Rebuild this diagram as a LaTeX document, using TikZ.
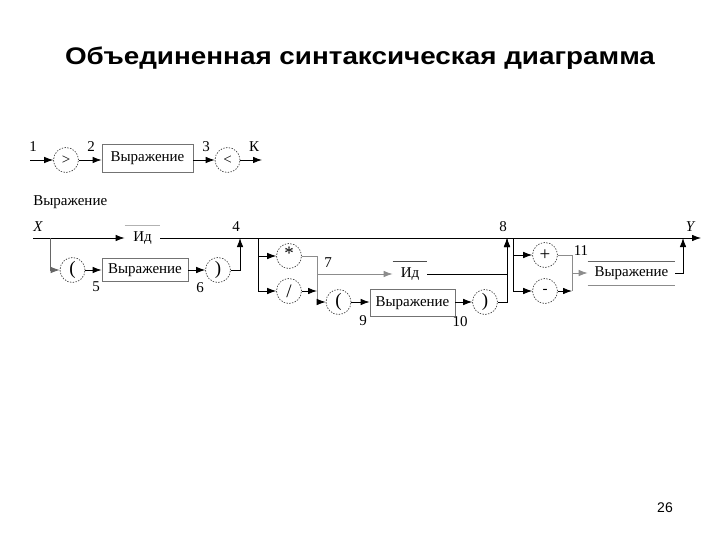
\documentclass[tikz,border=0pt]{standalone}
\usepackage{fontspec}
\setmainfont{Liberation Serif}
\newfontfamily\sansf{Liberation Sans}
\usetikzlibrary{arrows.meta}
\begin{document}
\begin{tikzpicture}[x=1pt,y=-1pt,
  line width=0.8pt,
  every node/.style={font=\fontsize{15}{17}\selectfont},
  arr/.style={-{Latex[length=9pt,width=6.5pt]}},
  term/.style={circle, draw=black!75, dash pattern=on 1.4pt off 1.4pt, line width=0.7pt, minimum size=25pt, inner sep=0pt},
  big/.style={font=\fontsize{19}{20}\selectfont},
  ntbox/.style={rectangle, draw=black!55, inner sep=0pt},
  plainbox/.style={rectangle, inner sep=0pt},
  lbl/.style={inner sep=0pt}
]
\useasboundingbox (0,0) rectangle (720,540);
\node[font=\sansf\bfseries\fontsize{24}{28}\selectfont, anchor=base] (title) at (360,65) {\scalebox{1.16}[1]{Объединенная синтаксическая диаграмма}};
\node[font=\sansf\fontsize{14}{16}\selectfont] (page) at (665,508) {26};

% top row
\coordinate (s1) at (30,160);
\node[term] (g1) at (66,160) {>};
\node[ntbox, minimum width=91pt, minimum height=28pt] (e1) at (147.5,158) {Выражение};
\node[term] (l1) at (227.5,160) {<};
\coordinate (k) at (262,160);
\draw[arr] (s1) -- (g1);
\draw[arr] (g1) -- (g1.east -| e1.west);
\draw[arr] (e1.east |- l1) -- (l1);
\draw[arr] (l1) -- (k);
\node[lbl] (n1) at (33,147) {1};
\node[lbl] (n2) at (91,147) {2};
\node[lbl] (n3) at (206,147) {3};
\node[lbl] (nk) at (254,147) {К};

\node[lbl, anchor=west] (vyr) at (33,202) {Выражение};

% main line
\coordinate (X) at (33,238);
\node[lbl] (xl) at (38,227) {\itshape X};
\node[plainbox, minimum width=35pt, minimum height=24pt] (id1) at (142.5,238) {Ид};
\draw[black!30] (id1.north west) -- (id1.north east);
\coordinate (Y) at (701,238);
\node[lbl] (yl) at (690,227) {\itshape Y};
\draw[arr] (X) -- (id1);
\draw[arr] (id1) -- (Y);

\coordinate (jb1) at (50,238);
\coordinate (j4) at (240,238);
\coordinate (jb2) at (258,238);
\coordinate (j8) at (507,238);
\coordinate (jb3) at (513,238);
\coordinate (jY) at (683,238);

% branch 1
\node[term, big] (p1) at (72.5,270) {(};
\node[ntbox, minimum width=86pt, minimum height=23pt] (e2) at (145,270) {Выражение};
\node[term, big] (p2) at (218,270) {)};
\draw[arr, black!60] (jb1) |- (p1);
\draw[arr] (p1) -- (e2);
\draw[arr] (e2) -- (p2);
\draw[arr] (p2) -| (j4);
\node[lbl] (n5) at (96,287) {5};
\node[lbl] (n6) at (200,288) {6};
\node[lbl] (n4) at (236,227) {4};

% branch 2
\node[term, big, text depth=5pt] (star) at (289,256) {*};
\node[term, big] (slash) at (289,291) {/};
\draw[arr] (jb2) |- (star);
\draw[arr] (jb2) |- (slash);
\coordinate (c7b) at (317,302);
\draw[black!45] (star) -| (c7b);
\draw[arr] (slash) -- (c7b |- slash);
\node[plainbox, minimum width=34pt, minimum height=24pt] (id2) at (410,274) {Ид};
\draw[black!70] (id2.north west) -- (id2.north east);
\draw[arr, black!45] (c7b |- id2) -- (id2);
\draw[arr] (id2) -| (j8);
\node[term, big] (p3) at (338.5,302) {(};
\node[ntbox, minimum width=85pt, minimum height=27pt] (e3) at (412.5,303) {Выражение};
\node[term, big] (p4) at (485,302) {)};
\draw[arr] (c7b) -- (p3);
\draw[arr] (p3) -- (p3.east -| e3.west);
\draw[arr] (e3.east |- p4) -- (p4);
\draw[arr] (p4) -| (j8);
\node[lbl] (n7) at (328,263) {7};
\node[lbl] (n8) at (503,227) {8};
\node[lbl] (n9) at (363,321) {9};
\node[lbl] (n10) at (460,322) {10};

% branch 3
\node[term, big] (plus) at (545,255) {+};
\node[term] (minus) at (545,291) {-};
\draw[arr] (jb3) |- (plus);
\draw[arr] (jb3) |- (minus);
\coordinate (c11b) at (572,291);
\coordinate (c11) at (572,273);
\draw[black!45] (plus) -| (c11b);
\draw[arr] (minus) -- (c11b);
\node[plainbox, minimum width=87pt, minimum height=23pt] (e4) at (631.5,273.5) {Выражение};
\draw[black!60] (e4.north west) -- (e4.north east);
\draw[black!45] (e4.south west) -- (e4.south east);
\draw[arr, black!45] (c11) -- (c11 -| e4.west);
\draw[arr] (e4.east |- c11) -| (jY);
\node[lbl] (n11) at (581,251) {11};
\end{tikzpicture}
\end{document}
